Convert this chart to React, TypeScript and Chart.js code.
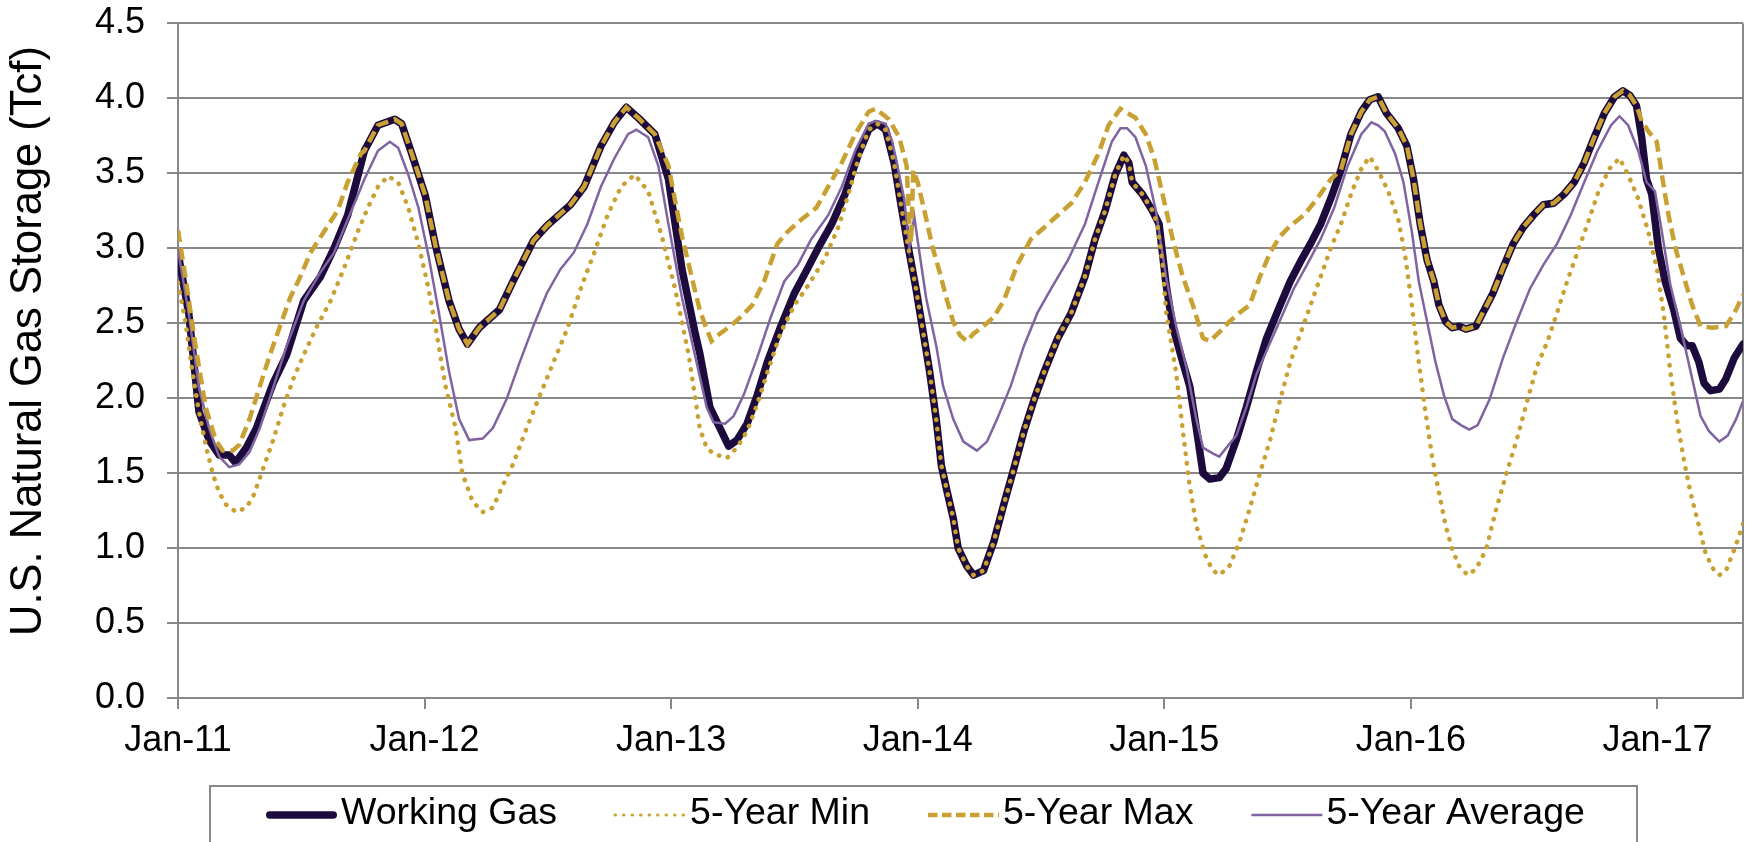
import React, { useEffect, useRef } from "react";
import { Chart, registerables } from "chart.js";

Chart.register(...registerables);

// ---------- DATA ----------
const xTickYears = [2011, 2012, 2013, 2014, 2015, 2016, 2017];
const xTickLabels = ["Jan-11", "Jan-12", "Jan-13", "Jan-14", "Jan-15", "Jan-16", "Jan-17"];
const yTickValues = [0, 0.5, 1.0, 1.5, 2.0, 2.5, 3.0, 3.5, 4.0, 4.5];
const seriesNames = ["Working Gas", "5-Year Min", "5-Year Max", "5-Year Average"];
const yAxisTitle = "U.S. Natural Gas Storage (Tcf)";

const workingGasYears = [
  2011.000, 2011.044, 2011.085, 2011.126, 2011.167, 2011.208, 2011.233, 2011.277, 2011.318, 2011.386,
  2011.441, 2011.510, 2011.578, 2011.633, 2011.688, 2011.756, 2011.811, 2011.879, 2011.907, 2011.948,
  2012.003, 2012.044, 2012.099, 2012.140, 2012.174, 2012.222, 2012.304, 2012.359, 2012.441, 2012.496,
  2012.592, 2012.647, 2012.715, 2012.770, 2012.818, 2012.866, 2012.934, 2012.989, 2013.044, 2013.099,
  2013.116, 2013.157, 2013.198, 2013.233, 2013.267, 2013.308, 2013.349, 2013.390, 2013.445, 2013.500,
  2013.555, 2013.596, 2013.651, 2013.705, 2013.760, 2013.801, 2013.836, 2013.870, 2013.904, 2013.931,
  2013.959, 2013.993, 2014.020, 2014.048, 2014.075, 2014.096, 2014.116, 2014.144, 2014.164, 2014.199,
  2014.226, 2014.267, 2014.308, 2014.349, 2014.390, 2014.431, 2014.472, 2014.514, 2014.568, 2014.623,
  2014.678, 2014.719, 2014.760, 2014.801, 2014.836, 2014.856, 2014.870, 2014.911, 2014.952, 2014.979,
  2015.007, 2015.034, 2015.075, 2015.103, 2015.130, 2015.157, 2015.185, 2015.223, 2015.251, 2015.292,
  2015.333, 2015.374, 2015.415, 2015.470, 2015.511, 2015.552, 2015.593, 2015.634, 2015.675, 2015.716,
  2015.757, 2015.799, 2015.833, 2015.867, 2015.901, 2015.949, 2015.984, 2016.011, 2016.038, 2016.066,
  2016.093, 2016.114, 2016.141, 2016.168, 2016.196, 2016.223, 2016.264, 2016.292, 2016.333, 2016.374,
  2016.415, 2016.456, 2016.497, 2016.538, 2016.579, 2016.621, 2016.662, 2016.703, 2016.744, 2016.785,
  2016.826, 2016.860, 2016.888, 2016.915, 2016.936, 2016.956, 2016.977, 2017.004, 2017.031, 2017.066,
  2017.093, 2017.120, 2017.141, 2017.168, 2017.189, 2017.216, 2017.251, 2017.278, 2017.312, 2017.347,
];
const workingGasValues = [
  2.97, 2.56, 1.91, 1.72, 1.62, 1.62, 1.57, 1.67, 1.80, 2.10,
  2.29, 2.65, 2.81, 3.00, 3.22, 3.65, 3.82, 3.86, 3.83, 3.63,
  3.35, 3.02, 2.65, 2.46, 2.36, 2.47, 2.59, 2.78, 3.05, 3.15,
  3.29, 3.41, 3.68, 3.84, 3.94, 3.87, 3.76, 3.46, 2.86, 2.42,
  2.30, 1.94, 1.80, 1.68, 1.72, 1.83, 2.02, 2.24, 2.48, 2.70,
  2.87, 3.00, 3.16, 3.36, 3.63, 3.79, 3.83, 3.79, 3.57, 3.30,
  3.03, 2.73, 2.46, 2.18, 1.86, 1.55, 1.40, 1.20, 1.00, 0.88,
  0.82, 0.85, 1.04, 1.29, 1.53, 1.78, 1.99, 2.18, 2.40, 2.57,
  2.81, 3.06, 3.25, 3.49, 3.62, 3.57, 3.44, 3.36, 3.25, 3.16,
  2.76, 2.48, 2.24, 2.08, 1.80, 1.50, 1.46, 1.47, 1.53, 1.72,
  1.94, 2.18, 2.40, 2.62, 2.78, 2.91, 3.03, 3.16, 3.33, 3.52,
  3.76, 3.91, 3.99, 4.01, 3.90, 3.80, 3.68, 3.46, 3.16, 2.92,
  2.78, 2.62, 2.51, 2.47, 2.48, 2.46, 2.48, 2.57, 2.70, 2.87,
  3.03, 3.14, 3.22, 3.29, 3.30, 3.36, 3.44, 3.57, 3.74, 3.90,
  4.01, 4.05, 4.02, 3.95, 3.74, 3.46, 3.36, 3.00, 2.78, 2.59,
  2.40, 2.35, 2.35, 2.24, 2.10, 2.05, 2.06, 2.13, 2.27, 2.36,
];

const minYears = [
  2011.000, 2011.030, 2011.058, 2011.085, 2011.112, 2011.140, 2011.167, 2011.195, 2011.236, 2011.277,
  2011.304, 2011.345, 2011.386, 2011.427, 2011.468, 2011.510, 2011.564, 2011.619, 2011.674, 2011.729,
  2011.770, 2011.811, 2011.852, 2011.893, 2011.934, 2011.975, 2012.016, 2012.044, 2012.085, 2012.126,
  2012.153, 2012.195, 2012.236, 2012.277, 2012.318, 2012.359, 2012.414, 2012.468, 2012.523, 2012.578,
  2012.633, 2012.688, 2012.742, 2012.797, 2012.852, 2012.907, 2012.962, 2013.016, 2013.071, 2013.116,
  2013.144, 2013.171, 2013.226, 2013.267, 2013.308, 2013.349, 2013.390, 2013.445, 2013.500, 2013.555,
  2013.623, 2013.678, 2013.719, 2013.760, 2013.801, 2013.836, 2013.870, 2013.904, 2013.931, 2013.959,
  2013.993, 2014.020, 2014.048, 2014.075, 2014.096, 2014.116, 2014.144, 2014.164, 2014.199, 2014.226,
  2014.267, 2014.308, 2014.349, 2014.390, 2014.431, 2014.472, 2014.514, 2014.568, 2014.623, 2014.678,
  2014.719, 2014.760, 2014.801, 2014.836, 2014.856, 2014.870, 2014.911, 2014.952, 2014.972, 2014.993,
  2015.007, 2015.048, 2015.074, 2015.100, 2015.130, 2015.171, 2015.198, 2015.223, 2015.264, 2015.305,
  2015.346, 2015.388, 2015.429, 2015.470, 2015.511, 2015.552, 2015.593, 2015.634, 2015.675, 2015.716,
  2015.757, 2015.799, 2015.833, 2015.867, 2015.908, 2015.949, 2015.977, 2016.004, 2016.032, 2016.059,
  2016.086, 2016.114, 2016.141, 2016.168, 2016.196, 2016.230, 2016.264, 2016.305, 2016.346, 2016.388,
  2016.429, 2016.470, 2016.511, 2016.552, 2016.593, 2016.634, 2016.675, 2016.716, 2016.757, 2016.805,
  2016.846, 2016.881, 2016.922, 2016.963, 2016.997, 2017.025, 2017.052, 2017.079, 2017.107, 2017.134,
  2017.168, 2017.196, 2017.230, 2017.251, 2017.278, 2017.312, 2017.347,
];
const minValues = [
  2.77, 2.51, 2.18, 1.91, 1.69, 1.50, 1.37, 1.29, 1.24, 1.27,
  1.34, 1.53, 1.72, 1.94, 2.13, 2.29, 2.48, 2.65, 2.87, 3.11,
  3.27, 3.41, 3.48, 3.44, 3.27, 3.03, 2.73, 2.48, 2.08, 1.80,
  1.50, 1.31, 1.24, 1.27, 1.42, 1.56, 1.80, 2.02, 2.24, 2.46,
  2.73, 2.97, 3.22, 3.41, 3.49, 3.38, 3.08, 2.73, 2.29, 1.80,
  1.67, 1.63, 1.60, 1.67, 1.78, 1.96, 2.17, 2.44, 2.62, 2.75,
  2.93, 3.14, 3.36, 3.60, 3.79, 3.83, 3.79, 3.57, 3.30, 3.03,
  2.73, 2.46, 2.18, 1.86, 1.55, 1.40, 1.20, 1.00, 0.88, 0.82,
  0.85, 1.04, 1.29, 1.53, 1.78, 1.99, 2.18, 2.40, 2.57, 2.81,
  3.06, 3.25, 3.49, 3.62, 3.57, 3.44, 3.36, 3.25, 3.16, 2.89,
  2.58, 2.17, 1.80, 1.45, 1.15, 0.93, 0.85, 0.82, 0.88, 1.04,
  1.26, 1.50, 1.72, 1.99, 2.24, 2.43, 2.62, 2.81, 3.00, 3.16,
  3.36, 3.53, 3.61, 3.52, 3.38, 3.19, 2.95, 2.62, 2.24, 1.91,
  1.61, 1.37, 1.15, 0.99, 0.88, 0.82, 0.86, 0.99, 1.26, 1.50,
  1.72, 1.97, 2.21, 2.37, 2.57, 2.78, 2.97, 3.16, 3.36, 3.53,
  3.60, 3.49, 3.33, 3.11, 2.87, 2.57, 2.18, 1.86, 1.59, 1.37,
  1.15, 0.96, 0.85, 0.82, 0.85, 0.99, 1.16,
];

const maxYears = [
  2011.000, 2011.030, 2011.071, 2011.112, 2011.153, 2011.181, 2011.222, 2011.249, 2011.290, 2011.332,
  2011.373, 2011.414, 2011.455, 2011.496, 2011.537, 2011.592, 2011.647, 2011.688, 2011.742, 2011.756,
  2011.811, 2011.879, 2011.907, 2011.948, 2012.003, 2012.044, 2012.099, 2012.140, 2012.174, 2012.222,
  2012.304, 2012.359, 2012.441, 2012.496, 2012.592, 2012.647, 2012.715, 2012.770, 2012.818, 2012.866,
  2012.934, 2012.989, 2013.044, 2013.099, 2013.116, 2013.144, 2013.164, 2013.198, 2013.240, 2013.281,
  2013.329, 2013.377, 2013.431, 2013.472, 2013.527, 2013.589, 2013.637, 2013.692, 2013.746, 2013.801,
  2013.829, 2013.883, 2013.925, 2013.955, 2013.966, 2013.973, 2013.982, 2014.000, 2014.027, 2014.061,
  2014.089, 2014.116, 2014.144, 2014.171, 2014.199, 2014.226, 2014.267, 2014.308, 2014.349, 2014.404,
  2014.459, 2014.514, 2014.568, 2014.623, 2014.678, 2014.733, 2014.774, 2014.822, 2014.883, 2014.925,
  2014.959, 2014.993, 2015.034, 2015.075, 2015.116, 2015.157, 2015.185, 2015.223, 2015.264, 2015.305,
  2015.346, 2015.388, 2015.429, 2015.470, 2015.511, 2015.566, 2015.620, 2015.675, 2015.716, 2015.757,
  2015.799, 2015.833, 2015.867, 2015.901, 2015.949, 2015.984, 2016.011, 2016.038, 2016.066, 2016.093,
  2016.114, 2016.141, 2016.168, 2016.196, 2016.223, 2016.264, 2016.292, 2016.333, 2016.374, 2016.415,
  2016.456, 2016.497, 2016.538, 2016.579, 2016.621, 2016.662, 2016.703, 2016.744, 2016.785, 2016.826,
  2016.860, 2016.888, 2016.915, 2016.936, 2016.963, 2016.997, 2017.018, 2017.045, 2017.073, 2017.107,
  2017.141, 2017.175, 2017.223, 2017.278, 2017.319, 2017.347,
];
const maxValues = [
  3.12, 2.81, 2.35, 1.94, 1.72, 1.65, 1.65, 1.69, 1.86, 2.08,
  2.29, 2.48, 2.67, 2.81, 2.97, 3.11, 3.25, 3.44, 3.63, 3.65,
  3.82, 3.86, 3.83, 3.63, 3.35, 3.02, 2.65, 2.46, 2.36, 2.47,
  2.59, 2.78, 3.05, 3.15, 3.29, 3.41, 3.68, 3.84, 3.94, 3.87,
  3.76, 3.55, 3.08, 2.70, 2.59, 2.46, 2.38, 2.43, 2.48, 2.54,
  2.62, 2.78, 3.03, 3.11, 3.19, 3.27, 3.41, 3.57, 3.76, 3.91,
  3.93, 3.86, 3.74, 3.55, 3.16, 3.04, 3.52, 3.44, 3.25, 3.00,
  2.84, 2.67, 2.51, 2.42, 2.38, 2.43, 2.48, 2.54, 2.65, 2.89,
  3.06, 3.14, 3.22, 3.30, 3.44, 3.63, 3.82, 3.93, 3.87, 3.76,
  3.60, 3.36, 3.06, 2.81, 2.62, 2.40, 2.38, 2.44, 2.51, 2.57,
  2.62, 2.81, 2.97, 3.08, 3.15, 3.22, 3.33, 3.46, 3.52, 3.76,
  3.91, 3.99, 4.01, 3.90, 3.80, 3.68, 3.46, 3.16, 2.92, 2.78,
  2.62, 2.51, 2.47, 2.48, 2.46, 2.48, 2.57, 2.70, 2.87, 3.03,
  3.14, 3.22, 3.29, 3.30, 3.36, 3.44, 3.57, 3.74, 3.90, 4.01,
  4.05, 4.02, 3.95, 3.85, 3.78, 3.71, 3.49, 3.22, 3.00, 2.81,
  2.62, 2.48, 2.47, 2.48, 2.59, 2.69,
];

const avgYears = [
  2011.000, 2011.044, 2011.085, 2011.126, 2011.167, 2011.208, 2011.249, 2011.290, 2011.332, 2011.386,
  2011.441, 2011.510, 2011.578, 2011.633, 2011.688, 2011.756, 2011.811, 2011.859, 2011.893, 2011.934,
  2011.975, 2012.016, 2012.058, 2012.099, 2012.140, 2012.181, 2012.236, 2012.277, 2012.332, 2012.386,
  2012.441, 2012.496, 2012.551, 2012.605, 2012.660, 2012.715, 2012.770, 2012.825, 2012.859, 2012.907,
  2012.948, 2012.989, 2013.044, 2013.099, 2013.144, 2013.171, 2013.219, 2013.253, 2013.294, 2013.349,
  2013.404, 2013.459, 2013.514, 2013.568, 2013.637, 2013.692, 2013.746, 2013.801, 2013.829, 2013.870,
  2013.897, 2013.925, 2013.945, 2013.966, 2013.986, 2014.007, 2014.034, 2014.075, 2014.103, 2014.144,
  2014.185, 2014.240, 2014.281, 2014.322, 2014.377, 2014.431, 2014.486, 2014.541, 2014.609, 2014.678,
  2014.733, 2014.787, 2014.822, 2014.849, 2014.883, 2014.925, 2014.966, 2015.007, 2015.048, 2015.089,
  2015.130, 2015.157, 2015.198, 2015.223, 2015.292, 2015.333, 2015.374, 2015.429, 2015.483, 2015.525,
  2015.579, 2015.634, 2015.689, 2015.744, 2015.799, 2015.840, 2015.867, 2015.894, 2015.936, 2015.970,
  2016.004, 2016.032, 2016.066, 2016.100, 2016.134, 2016.168, 2016.203, 2016.237, 2016.271, 2016.319,
  2016.374, 2016.429, 2016.483, 2016.538, 2016.593, 2016.648, 2016.703, 2016.757, 2016.812, 2016.846,
  2016.881, 2016.922, 2016.956, 2016.990, 2017.018, 2017.052, 2017.093, 2017.134, 2017.175, 2017.209,
  2017.251, 2017.285, 2017.319, 2017.347,
];
const avgValues = [
  2.99, 2.56, 2.07, 1.80, 1.61, 1.54, 1.56, 1.64, 1.80, 2.07,
  2.35, 2.65, 2.84, 2.97, 3.19, 3.46, 3.65, 3.71, 3.67, 3.49,
  3.27, 2.95, 2.57, 2.18, 1.86, 1.72, 1.73, 1.80, 1.99, 2.24,
  2.48, 2.70, 2.86, 2.97, 3.16, 3.41, 3.60, 3.76, 3.79, 3.74,
  3.55, 3.16, 2.67, 2.27, 1.94, 1.84, 1.83, 1.88, 2.02, 2.27,
  2.54, 2.78, 2.89, 3.06, 3.22, 3.41, 3.65, 3.83, 3.85, 3.83,
  3.71, 3.49, 3.33, 3.00, 3.21, 2.97, 2.67, 2.35, 2.08, 1.86,
  1.71, 1.65, 1.71, 1.86, 2.08, 2.35, 2.57, 2.73, 2.92, 3.16,
  3.44, 3.71, 3.80, 3.80, 3.74, 3.55, 3.25, 2.81, 2.48, 2.21,
  1.86, 1.67, 1.63, 1.61, 1.75, 1.94, 2.16, 2.37, 2.57, 2.73,
  2.89, 3.06, 3.27, 3.55, 3.76, 3.84, 3.82, 3.78, 3.63, 3.44,
  3.11, 2.78, 2.51, 2.24, 2.02, 1.86, 1.82, 1.79, 1.82, 1.99,
  2.27, 2.51, 2.73, 2.89, 3.03, 3.22, 3.44, 3.65, 3.82, 3.88,
  3.82, 3.65, 3.44, 3.38, 3.11, 2.76, 2.48, 2.18, 1.88, 1.78,
  1.71, 1.75, 1.86, 1.98,
];

// ---------- STYLE ----------
const FONT = '"Liberation Sans", Arial, Helvetica, sans-serif';
const DARK = "#1c0b3c";
const GOLD = "#c9a133";
const PURPLE = "#8064a2";
const GRID = "#888888";
const X_MIN = 2011;
const X_MAX = 2017.347;

const toPoints = (xs: number[], ys: number[]) => xs.map((x, i) => ({ x, y: ys[i] }));

const legendSamples = [
  { color: DARK, width: 7.5, dash: [] as number[], cap: "round" as CanvasLineCap },
  { color: GOLD, width: 3, dash: [0.5, 8], cap: "round" as CanvasLineCap },
  { color: GOLD, width: 4.5, dash: [9.5, 4.5], cap: "butt" as CanvasLineCap },
  { color: PURPLE, width: 2.5, dash: [] as number[], cap: "butt" as CanvasLineCap },
];

const boxLegendPlugin = {
  id: "boxLegend",
  afterDraw(chart: any) {
    const ctx = chart.ctx as CanvasRenderingContext2D;
    ctx.save();
    ctx.strokeStyle = GRID;
    ctx.lineWidth = 2;
    ctx.setLineDash([]);
    ctx.strokeRect(210, 786, 1427, 100);
    ctx.font = `37.5px ${FONT}`;
    ctx.textBaseline = "middle";
    ctx.textAlign = "left";
    const y = 814;
    let x = 266;
    const lineLen = 71;
    seriesNames.forEach((name, i) => {
      const s = legendSamples[i];
      ctx.beginPath();
      ctx.strokeStyle = s.color;
      ctx.lineWidth = s.width;
      ctx.lineCap = s.cap;
      ctx.setLineDash(s.dash);
      const inset = s.cap === "round" && s.dash.length === 0 ? s.width / 2 : 0;
      ctx.moveTo(x + inset, y + 1);
      ctx.lineTo(x + lineLen - inset, y + 1);
      ctx.stroke();
      ctx.setLineDash([]);
      ctx.fillStyle = "#000";
      const tx = x + lineLen + 4;
      ctx.fillText(name, tx, y);
      x = tx + ctx.measureText(name).width + 58;
    });
    ctx.restore();
  },
};

const plotBorderPlugin = {
  id: "plotBorder",
  beforeDatasetsDraw(chart: any) {
    const { ctx, chartArea } = chart;
    ctx.save();
    ctx.strokeStyle = GRID;
    ctx.lineWidth = 2;
    ctx.beginPath();
    ctx.moveTo(Math.round(chartArea.right), chartArea.top);
    ctx.lineTo(Math.round(chartArea.right), chartArea.bottom);
    ctx.stroke();
    ctx.restore();
  },
};

const yTitlePlugin = {
  id: "yTitle",
  afterDraw(chart: any) {
    const ctx = chart.ctx as CanvasRenderingContext2D;
    ctx.save();
    ctx.translate(29, 341);
    ctx.rotate(-Math.PI / 2);
    ctx.font = `43.5px ${FONT}`;
    ctx.fillStyle = "#000";
    ctx.textAlign = "center";
    ctx.textBaseline = "middle";
    ctx.fillText(yAxisTitle, 0, 0);
    ctx.restore();
  },
};

export default function App() {
  const canvasRef = useRef<HTMLCanvasElement | null>(null);

  useEffect(() => {
    if (!canvasRef.current) return;
    const chart = new Chart(canvasRef.current, {
      type: "line",
      data: {
        datasets: [
          {
            label: seriesNames[0],
            data: toPoints(workingGasYears, workingGasValues),
            borderColor: DARK,
            backgroundColor: DARK,
            borderWidth: 7.5,
            pointRadius: 0,
            tension: 0,
            borderJoinStyle: "round",
            borderCapStyle: "round",
            order: 4,
          },
          {
            label: seriesNames[1],
            data: toPoints(minYears, minValues),
            borderColor: GOLD,
            backgroundColor: GOLD,
            borderWidth: 4.5,
            borderDash: [0.5, 9],
            borderCapStyle: "round",
            pointRadius: 0,
            tension: 0,
            order: 1,
          },
          {
            label: seriesNames[2],
            data: toPoints(maxYears, maxValues),
            borderColor: GOLD,
            backgroundColor: GOLD,
            borderWidth: 4.5,
            borderDash: [12, 6],
            borderCapStyle: "butt",
            pointRadius: 0,
            tension: 0,
            order: 2,
          },
          {
            label: seriesNames[3],
            data: toPoints(avgYears, avgValues),
            borderColor: PURPLE,
            backgroundColor: PURPLE,
            borderWidth: 2.5,
            pointRadius: 0,
            tension: 0,
            order: 3,
          },
        ],
      },
      options: {
        responsive: false,
        animation: false,
        devicePixelRatio: 1,
        events: [],
        layout: { padding: { top: 23.3, right: 5, left: 0, bottom: 0 } },
        plugins: { legend: { display: false }, tooltip: { enabled: false } },
        scales: {
          x: {
            type: "linear",
            min: X_MIN,
            max: X_MAX,
            afterBuildTicks: (scale: any) => {
              scale.ticks = xTickYears.map((v) => ({ value: v }));
            },
            ticks: {
              autoSkip: false,
              maxRotation: 0,
              minRotation: 0,
              padding: 10,
              color: "#000",
              font: { family: FONT, size: 36 },
              callback: (_v: any, i: number) => xTickLabels[i],
            },
            grid: { drawOnChartArea: false, drawTicks: true, tickLength: 11, color: GRID, lineWidth: 2 },
            border: { display: true, color: GRID, width: 2 },
            afterFit: (s: any) => {
              s.height = 144;
              s.paddingRight = 0;
            },
          },
          y: {
            type: "linear",
            min: 0,
            max: 4.5,
            afterBuildTicks: (scale: any) => {
              scale.ticks = yTickValues.map((v) => ({ value: v }));
            },
            ticks: {
              padding: 22,
              color: "#000",
              font: { family: FONT, size: 36 },
              callback: (v: any) => Number(v).toFixed(1),
            },
            grid: { drawTicks: true, tickLength: 11, color: GRID, lineWidth: 2 },
            border: { display: true, color: GRID, width: 2 },
            title: { display: false },
            afterFit: (s: any) => {
              s.width = 178;
              s.paddingTop = 0;
              s.paddingBottom = 0;
            },
          },
        },
      },
      plugins: [plotBorderPlugin, boxLegendPlugin, yTitlePlugin],
    });
    return () => chart.destroy();
  }, []);

  return (
    <div style={{ position: "fixed", left: 0, top: 0, width: 1748, height: 842, background: "#fff", overflow: "hidden" }}>
      <canvas ref={canvasRef} width={1748} height={842} style={{ display: "block" }} />
    </div>
  );
}
